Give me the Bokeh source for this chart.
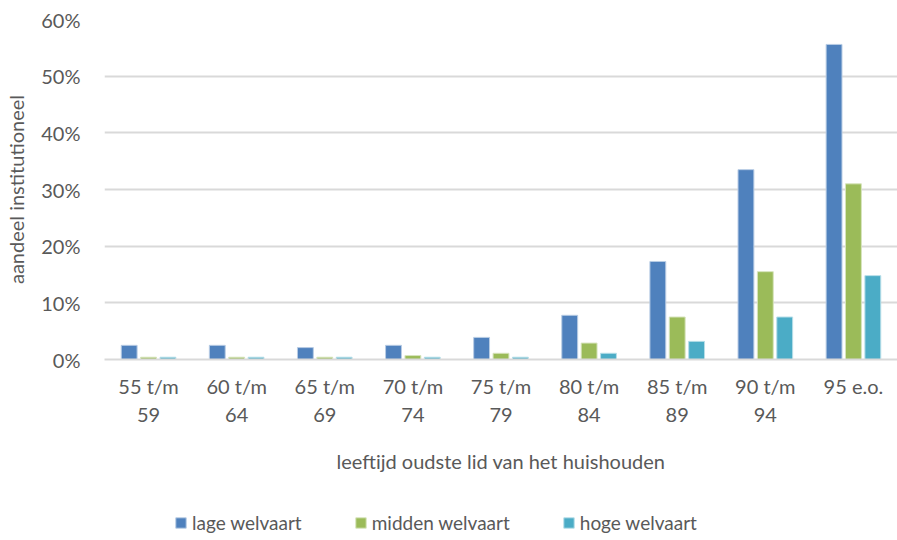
from bokeh.plotting import figure
from bokeh.layouts import column
from bokeh.models import ColumnDataSource, FactorRange, PrintfTickFormatter, Legend, LegendItem
from bokeh.transform import dodge
from bokeh.embed import file_html
from bokeh.resources import INLINE

categories = ["55 t/m\n59", "60 t/m\n64", "65 t/m\n69", "70 t/m\n74", "75 t/m\n79",
              "80 t/m\n84", "85 t/m\n89", "90 t/m\n94", "95 e.o."]
lage = [2.5, 2.5, 2.1, 2.5, 3.9, 7.8, 17.3, 33.5, 55.6]
midden = [0.4, 0.4, 0.4, 0.7, 1.1, 2.9, 7.5, 15.5, 31.0]
hoge = [0.4, 0.4, 0.4, 0.4, 0.4, 1.1, 3.2, 7.5, 14.8]
series_names = ["lage welvaart", "midden welvaart", "hoge welvaart"]
colors = ["#4F81BD", "#9BBB59", "#4BACC6"]
edges = ["#B8CCE4", "#D7E4BD", "#B7DEE8"]
yticks = [0, 10, 20, 30, 40, 50, 60]

FONT = "Lato"
TXT = "#595959"
FS = "20px"

src = ColumnDataSource(dict(cat=categories, lage=lage, midden=midden, hoge=hoge))

p = figure(x_range=FactorRange(*categories), y_range=(0, 60), width=897, height=504,
           output_backend="svg", toolbar_location=None,
           min_border_left=104, min_border_right=0, min_border_top=19, min_border_bottom=145)

w = 0.18
off = 0.22
r1 = p.vbar(x=dodge("cat", -off, range=p.x_range), top="lage", width=w, source=src,
            fill_color=colors[0], line_color=edges[0], line_width=1)
r2 = p.vbar(x=dodge("cat", 0.0, range=p.x_range), top="midden", width=w, source=src,
            fill_color=colors[1], line_color=edges[1], line_width=1)
r3 = p.vbar(x=dodge("cat", off, range=p.x_range), top="hoge", width=w, source=src,
            fill_color=colors[2], line_color=edges[2], line_width=1)

p.outline_line_color = None
p.xgrid.grid_line_color = None
p.ygrid.grid_line_color = "#D9D9D9"
p.ygrid.grid_line_width = 2
p.ygrid.ticker = yticks

p.yaxis.ticker = yticks
p.yaxis.formatter = PrintfTickFormatter(format="%d%%")
p.yaxis.axis_line_color = None
p.yaxis.major_tick_line_color = None
p.yaxis.minor_tick_line_color = None
p.yaxis.major_label_text_font = FONT
p.yaxis.major_label_text_font_size = FS
p.yaxis.major_label_text_color = TXT
p.yaxis.major_label_standoff = 18
p.yaxis.axis_label = "aandeel institutioneel"
p.yaxis.axis_label_text_font = FONT
p.yaxis.axis_label_text_font_size = FS
p.yaxis.axis_label_text_font_style = "normal"
p.yaxis.axis_label_text_color = TXT
p.yaxis.axis_label_standoff = 10

p.xaxis.axis_line_color = "#D9D9D9"
p.xaxis.axis_line_width = 2
p.xaxis.major_tick_line_color = None
p.xaxis.minor_tick_line_color = None
p.xaxis.major_label_text_font = FONT
p.xaxis.major_label_text_font_size = FS
p.xaxis.major_label_text_color = TXT
p.xaxis.major_label_standoff = 8
p.xaxis.axis_label = "leeftijd oudste lid van het huishouden"
p.xaxis.axis_label_text_font = FONT
p.xaxis.axis_label_text_font_size = FS
p.xaxis.axis_label_text_font_style = "normal"
p.xaxis.axis_label_text_color = TXT
p.xaxis.axis_label_standoff = 20

# separate strip for the legend (keeps the main frame intact);
# its bars reuse the same data but lie outside this strip's visible y-range
lf = figure(width=897, height=34, output_backend="svg", toolbar_location=None,
            min_border=0, x_range=FactorRange(*categories), y_range=(100, 110))
lf.axis.visible = False
lf.grid.visible = False
lf.outline_line_color = None
l1 = lf.vbar(x="cat", top="lage", width=0.1, source=src, fill_color=colors[0], line_color=edges[0])
l2 = lf.vbar(x="cat", top="midden", width=0.1, source=src, fill_color=colors[1], line_color=edges[1])
l3 = lf.vbar(x="cat", top="hoge", width=0.1, source=src, fill_color=colors[2], line_color=edges[2])

legend = Legend(items=[LegendItem(label=series_names[0], renderers=[l1]),
                       LegendItem(label=series_names[1], renderers=[l2]),
                       LegendItem(label=series_names[2], renderers=[l3])],
                orientation="horizontal", location=(70, 4),
                border_line_color=None, background_fill_alpha=0,
                label_text_font=FONT, label_text_font_size="19px", label_text_color=TXT,
                glyph_width=13, glyph_height=13, spacing=52, label_standoff=5,
                margin=0, padding=0)
lf.add_layout(legend, "center")

layout = column(p, lf, spacing=0)
open("out.html", "w").write(file_html(layout, INLINE))
